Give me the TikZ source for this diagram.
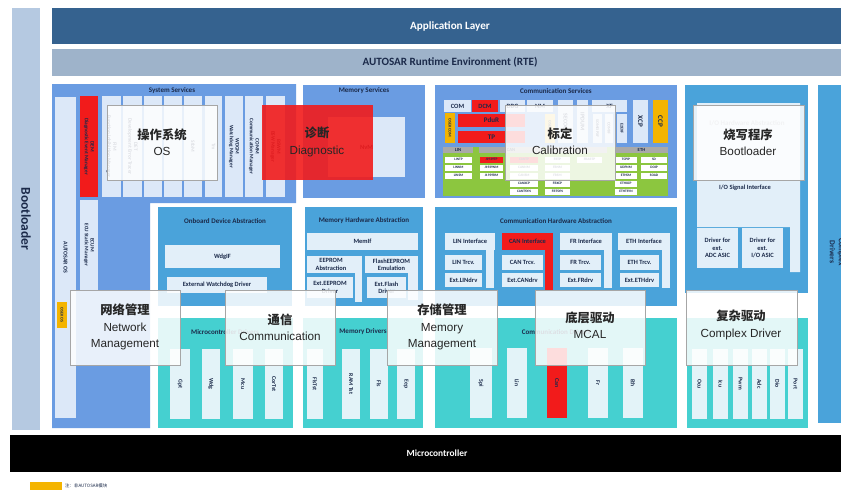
\documentclass[tikz,border=0pt]{standalone}
\usepackage{fontspec}
\setmainfont{Carlito}
\newfontfamily\cjk{Noto Sans CJK SC}
\newfontfamily\arl{Liberation Sans}
\definecolor{app}{HTML}{35628F}
\definecolor{rte}{HTML}{9EB3CA}
\definecolor{boot}{HTML}{B5C9E1}
\definecolor{svc}{HTML}{6A9CE2}
\definecolor{svcl}{HTML}{DCE8F8}
\definecolor{abs}{HTML}{4AA3DA}
\definecolor{absl}{HTML}{E2EFF9}
\definecolor{drv}{HTML}{45D0D0}
\definecolor{drvl}{HTML}{E3F3F8}
\definecolor{redc}{HTML}{F21B1B}
\definecolor{yel}{HTML}{F4B400}
\definecolor{grn}{HTML}{8CC63F}
\definecolor{hdr}{HTML}{A9A9A9}
\definecolor{navy}{HTML}{1B2A4A}
\tikzset{
 lbl/.style={text=navy,font=\bfseries\fontsize{5.5}{6.2}\selectfont,align=center,inner sep=0pt},
 hd/.style={text=navy,font=\bfseries\fontsize{6}{7}\selectfont,inner sep=0pt},
 vt/.style={rotate=-90,text=navy,font=\bfseries\fontsize{4.5}{5}\selectfont,align=center,inner sep=0pt},
 dv/.style={rotate=-90,text=navy,font=\bfseries\fontsize{5}{6}\selectfont,inner sep=0pt},
 tinyt/.style={text=navy,font=\bfseries\fontsize{3}{3.5}\selectfont,inner sep=0pt},
 ovw/.style={fill=white,fill opacity=0.85,draw=gray!70,line width=0.4pt},
 ovr/.style={fill=redc,fill opacity=0.9,draw=none},
 ovt/.style={align=center,text=black!85,font=\arl\fontsize{10}{14}\selectfont,inner sep=0pt},
}
\newcommand\zh[1]{{\cjk\bfseries\fontsize{10.5}{14}\selectfont #1}}
\NewDocumentCommand\B{O{}mmmmO{lbl}m}{\path[#1] (#2,#3) rectangle (#4,#5) node[pos=.5,#6]{#7};}
\newcommand\bi[5][white]{\path[fill=#1] (#2,#4) rectangle (#3,#4+5.5) node[pos=.5,tinyt]{#5};}
\begin{document}
\begin{tikzpicture}[x=0.3mm,y=-0.3mm]
\useasboundingbox (0,0) rectangle (841,490);
\fill[white] (0,0) rectangle (841,490);
% Bootloader column
\B[fill=boot]{12}{8}{40}{430}[rotate=-90,text=navy,font=\bfseries\fontsize{11.5}{12}\selectfont]{Bootloader}
% Application / RTE
\fill[app] (52,8) rectangle (841,44);
\node[text=white,font=\bfseries\fontsize{9.5}{11}\selectfont] (appl) at (450,26) {Application Layer};
\fill[rte] (52,49) rectangle (841,76);
\node[text=navy,font=\bfseries\fontsize{9.5}{11}\selectfont] (rtel) at (450,62) {AUTOSAR Runtime Environment (RTE)};
% ---------------- System services
\fill[svc] (52,84) -- (296,84) -- (296,203) -- (150,203) -- (150,428) -- (52,428) -- cycle;
\node[hd] (sysh) at (172,91) {System Services};
\B[fill=svcl]{55}{97}{76}{418}[vt,font=\bfseries\fontsize{5}{6}\selectfont]{AUTOSAR OS}
\B[fill=yel]{57}{302}{67}{328}[vt,font=\bfseries\fontsize{3.5}{4}\selectfont]{OSEK OS}
\B[fill=redc]{80}{96}{98}{197}[vt]{DEM\\Diagnostic Event Manager}
\B[fill=svcl]{80}{200}{98}{290}[vt]{ECUM\\ECU Static Manager}
\B[fill=svcl]{102}{96}{121}{197}[vt]{FIM\\Function Inhibition Manager}
\B[fill=svcl]{123}{96}{142}{197}[vt]{DET\\Development Error Tracer}
\fill[svcl] (144,96) rectangle (162,197);
\fill[svcl] (164,96) rectangle (182,197);
\B[fill=svcl]{184}{96}{202}{197}[vt]{StbM}
\B[fill=svcl]{205}{96}{222}{197}[vt]{Tm}
\B[fill=svcl]{225}{96}{243}{197}[vt]{WDGM\\Watchdog Manager}
\B[fill=svcl]{245}{96}{263}{197}[vt]{COMM\\Communication Manager}
\B[fill=svcl]{266}{96}{285}{197}[vt]{BSWM\\BSW Manager}
% ---------------- Memory services
\fill[svc] (303,85) rectangle (425,198);
\node[hd] (memh) at (364,91) {Memory Services};
\B[fill=svcl]{328}{117}{405}{177}{NvM}
% ---------------- Communication services
\fill[svc] (435,85) rectangle (677,198);
\node[hd] (comh) at (556,91) {Communication Services};
\B[fill=svcl]{444}{100}{471}{112}{COM}
\B[fill=redc]{472}{100}{498}{112}{DCM}
\B[fill=svcl]{500}{100}{525}{112}{DBG}
\B[fill=svcl]{527}{100}{553}{112}{NM}
\B[fill=svcl]{558}{100}{573}{143}[dv]{SECOC}
\B[fill=svcl]{577}{100}{588}{143}[dv]{IPDUM}
\B[fill=svcl]{592}{100}{627}{112}{XF}
\B[fill=svcl]{593}{114}{602}{143}[vt,font=\bfseries\fontsize{3.5}{4}\selectfont]{SOMEIPXF}
\B[fill=svcl]{605}{114}{613}{143}[vt,font=\bfseries\fontsize{3.5}{4}\selectfont]{COMXF}
\B[fill=svcl]{617}{114}{627}{143}[vt,font=\bfseries\fontsize{3.5}{4}\selectfont]{E2EXF}
\B[fill=svcl]{633}{100}{648}{143}[dv,font=\bfseries\fontsize{6}{7}\selectfont]{XCP}
\B[fill=yel]{653}{100}{668}{143}[dv,font=\bfseries\fontsize{6}{7}\selectfont]{CCP}
\B[fill=yel]{445}{113}{455}{143}[vt,font=\bfseries\fontsize{3.5}{4}\selectfont]{OSEK COM}
\B[fill=redc]{458}{114}{525}{127}[lbl,font=\bfseries\fontsize{6}{7}\selectfont]{PduR}
\B[fill=redc]{458}{131}{525}{143}[lbl,font=\bfseries\fontsize{6}{7}\selectfont]{TP}
\B[fill=yel!60]{545}{114}{555}{143}[vt,font=\bfseries\fontsize{3.5}{4}\selectfont]{OSEK NM}
\fill[grn] (443,147) rectangle (668,196);
\B[fill=hdr]{443}{147}{473}{153}[tinyt,font=\bfseries\fontsize{4}{4.5}\selectfont]{LIN}
\B[fill=hdr]{479}{147}{543}{153}[tinyt,font=\bfseries\fontsize{4}{4.5}\selectfont]{CAN}
\fill[hdr] (546,147) rectangle (607,153);
\B[fill=hdr]{615}{147}{668}{153}[tinyt,font=\bfseries\fontsize{4}{4.5}\selectfont]{ETH}
\bi{445}{472}{157}{LINTP}\bi{445}{472}{165}{LINNM}\bi{445}{472}{173}{LINSM}
\bi[redc]{480}{503}{157}{J1939TP}\bi{480}{503}{165}{J1939NM}\bi{480}{503}{173}{J1939RM}
\bi[redc]{510}{538}{157}{CANTP}\bi{510}{538}{165}{CANNM}\bi{510}{538}{173}{CANSM}\bi{510}{538}{181}{CANXCP}\bi{510}{538}{189}{CANTSYN}
\bi{545}{570}{157}{FRTP}\bi{545}{570}{165}{FRNM}\bi{545}{570}{173}{FRSM}\bi{545}{570}{181}{FRXCP}\bi{545}{570}{189}{FRTSYN}
\bi{577}{602}{157}{FRARTP}
\bi{615}{637}{157}{TCPIP}\bi{615}{637}{165}{UDPNM}\bi{615}{637}{173}{ETHSM}\bi{615}{637}{181}{ETHXCP}\bi{615}{637}{189}{ETHTSYN}
\bi{641}{667}{157}{SD}\bi{641}{667}{165}{DOIP}\bi{641}{667}{173}{SOAD}
% ---------------- I/O hardware abstraction
\fill[abs] (685,85) rectangle (808,293);
\fill[absl] (697,103) -- (800,103) -- (800,272) -- (790,272) -- (790,227) -- (697,227) -- cycle;
\node[hd,text=navy!40] (ioh) at (747,123) {I/O Hardware Abstraction};
\node[lbl] (iosig) at (745,188) {I/O Signal Interface};
\B[fill=absl]{697}{228}{738}{268}{Driver for\\ext.\\ADC ASIC}
\B[fill=absl]{742}{228}{783}{268}{Driver for\\ext.\\I/O ASIC}
% Complex drivers column
\fill[abs] (818,85) rectangle (841,423);
\node[dv,align=center,font=\bfseries\fontsize{6.5}{7.5}\selectfont] (cdd) at (837,252) {Complex\\Drivers};
% ---------------- Onboard device abstraction
\fill[abs] (158,207) rectangle (292,306);
\node[hd] (obh) at (225,221) {Onboard Device Abstraction};
\B[fill=absl]{165}{245}{280}{268}{WdgIF}
\B[fill=absl]{167}{277}{267}{293}{External Watchdog Driver}
% ---------------- Memory hardware abstraction
\fill[abs] (305,207) rectangle (423,306);
\node[hd] (mhh) at (364,221) {Memory Hardware Abstraction};
\B[fill=absl]{307}{233}{418}{250}{MemIf}
\fill[absl] (355,256) rectangle (362,302);
\B[fill=absl]{307}{256}{355}{273}{EEPROM\\Abstraction}
\B[fill=absl]{307}{277}{353}{298}{Ext.EEPROM\\Driver}
\fill[absl] (408,256) rectangle (418,300);
\B[fill=absl]{365}{256}{418}{273}{FlashEEPROM\\Emulation}
\B[fill=absl]{367}{277}{406}{298}{Ext.Flash\\Driver}
% ---------------- Communication hardware abstraction
\fill[abs] (435,207) rectangle (677,306);
\node[hd] (chh) at (556,221) {Communication Hardware Abstraction};
\fill[absl] (486,250) rectangle (494,288);
\B[fill=absl]{445}{233}{495}{250}{LIN Interface}
\B[fill=absl]{445}{255}{482}{270}{LIN Trcv.}
\B[fill=absl]{445}{273}{482}{287}{Ext.LINdrv}
\fill[redc] (545,250) rectangle (553,290);
\B[fill=redc]{502}{233}{553}{250}{CAN Interface}
\B[fill=absl]{502}{255}{543}{270}{CAN Trcv.}
\B[fill=absl]{502}{273}{543}{287}{Ext.CANdrv}
\fill[absl] (604,250) rectangle (612,288);
\B[fill=absl]{560}{233}{612}{250}{FR Interface}
\B[fill=absl]{560}{255}{601}{270}{FR Trcv.}
\B[fill=absl]{560}{273}{601}{287}{Ext.FRdrv}
\fill[absl] (662,250) rectangle (670,288);
\B[fill=absl]{618}{233}{670}{250}{ETH Interface}
\B[fill=absl]{620}{255}{659}{270}{ETH Trcv.}
\B[fill=absl]{620}{273}{659}{287}{Ext.ETHdrv}
% ---------------- Microcontroller drivers
\fill[drv] (158,318) rectangle (293,428);
\node[hd] (mch) at (225,332) {Microcontroller Drivers};
\B[fill=drvl]{170}{349}{190}{419}[dv]{Gpt}
\B[fill=drvl]{202}{349}{220}{419}[dv]{Wdg}
\B[fill=drvl]{233}{349}{253}{419}[dv]{Mcu}
\B[fill=drvl]{265}{349}{283}{419}[dv]{CorTst}
\fill[drv] (303,318) rectangle (423,428);
\node[hd] (mdh) at (363,332) {Memory Drivers};
\B[fill=drvl]{307}{349}{323}{419}[dv]{FlsTst}
\B[fill=drvl]{342}{349}{360}{419}[dv]{RAM Tst}
\B[fill=drvl]{370}{349}{388}{419}[dv]{Fls}
\B[fill=drvl]{397}{349}{415}{419}[dv]{Eep}
\fill[drv] (435,318) rectangle (677,428);
\node[hd] (cdh) at (556,332) {Communication Drivers};
\B[fill=drvl]{470}{348}{492}{418}[dv]{Spi}
\B[fill=drvl]{507}{348}{527}{418}[dv]{Lin}
\B[fill=redc]{547}{348}{567}{418}[dv]{Can}
\B[fill=drvl]{588}{348}{608}{418}[dv]{Fr}
\B[fill=drvl]{623}{348}{643}{418}[dv]{Eth}
\fill[drv] (687,318) rectangle (808,428);
\B[fill=drvl]{692}{349}{707}{419}[dv]{Ocu}
\B[fill=drvl]{713}{349}{728}{419}[dv]{Icu}
\B[fill=drvl]{733}{349}{748}{419}[dv]{Pwm}
\B[fill=drvl]{752}{349}{767}{419}[dv]{Adc}
\B[fill=drvl]{770}{349}{785}{419}[dv]{Dio}
\B[fill=drvl]{788}{349}{803}{419}[dv]{Port}
% ---------------- Microcontroller bar
\fill[black] (10,435) rectangle (841,472);
\node[text=white,font=\bfseries\fontsize{8}{9}\selectfont] (mcu) at (437,453) {Microcontroller};
% legend
\fill[yel] (30,482) rectangle (62,492);
\node[anchor=west,inner sep=0pt,text=navy,font=\cjk\fontsize{3.8}{4}\selectfont] (leg) at (65,486) {注：非AUTOSAR模块};
% ---------------- Overlays
\path[ovw] (107,105) rectangle (217,180);
\node[ovt] (ov1) at (162,142) {\zh{操作系统}\\OS};
\path[ovr] (262,105) rectangle (373,180);
\node[ovt] (ov2) at (317,142) {\zh{诊断}\\Diagnostic};
\path[ovw] (505,105) rectangle (615,180);
\node[ovt] (ov3) at (560,141) {\zh{标定}\\Calibration};
\path[ovw] (693,105) rectangle (804,180);
\node[ovt] (ov4) at (748,142) {\zh{烧写程序}\\Bootloader};
\path[ovw] (70,290) rectangle (180,365);
\node[ovt] (ov5) at (125,327) {\zh{网络管理}\\Network\\Management};
\path[ovw] (225,290) rectangle (335,365);
\node[ovt] (ov6) at (280,327) {\zh{通信}\\Communication};
\path[ovw] (387,290) rectangle (497,365);
\node[ovt] (ov7) at (442,327) {\zh{存储管理}\\Memory\\Management};
\path[ovw] (535,290) rectangle (645,365);
\node[ovt] (ov8) at (590,325) {\zh{底层驱动}\\MCAL};
\path[ovw] (686,290) rectangle (797,365);
\node[ovt] (ov9) at (741,325) {\zh{复杂驱动}\\Complex Driver};
\end{tikzpicture}
\end{document}
